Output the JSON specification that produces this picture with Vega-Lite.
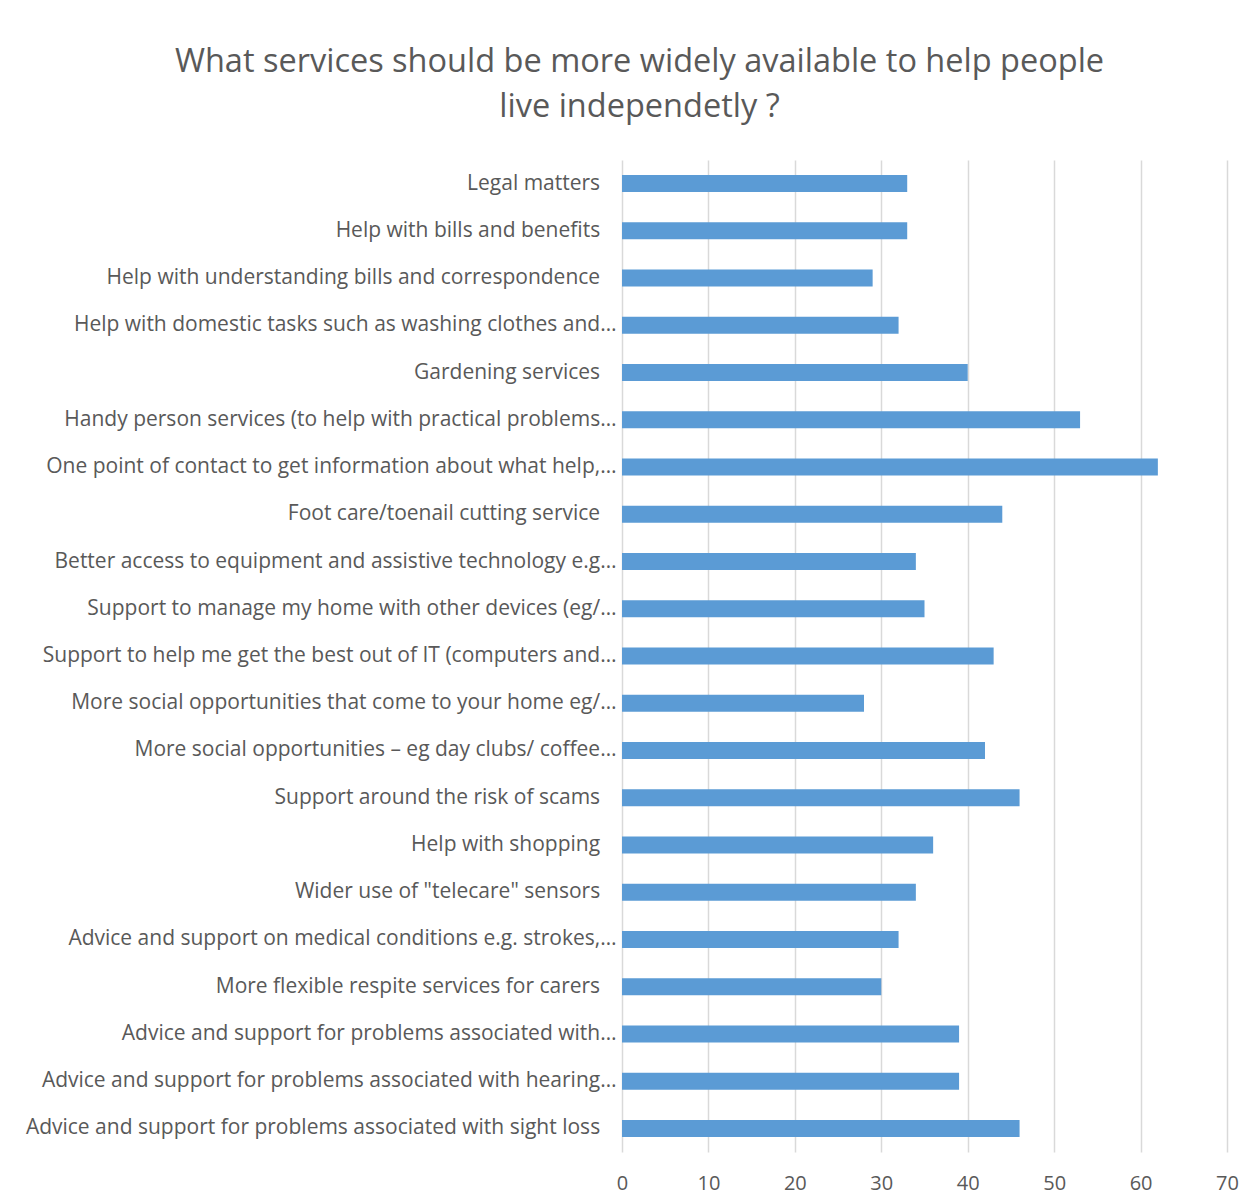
{
  "$schema": "https://vega.github.io/schema/vega-lite/v6.json",
  "width": 605,
  "height": 992,
  "autosize": {"type": "none"},
  "padding": {"left": 622, "top": 160, "right": 29, "bottom": 52},
  "background": "white",
  "title": {
    "text": ["What services should be more widely available to help people", "live independetly ?"],
    "anchor": "middle",
    "frame": "group",
    "dx": -285,
    "offset": 37,
    "font": "Open Sans",
    "fontSize": 32.5,
    "fontWeight": "normal",
    "color": "#595959",
    "lineHeight": 45
  },
  "data": {
    "values": [
      {"service": "Legal matters", "count": 33},
      {"service": "Help with bills and benefits", "count": 33},
      {"service": "Help with understanding bills and correspondence", "count": 29},
      {"service": "Help with domestic tasks such as washing clothes and…", "count": 32},
      {"service": "Gardening services", "count": 40},
      {"service": "Handy person services (to help with practical problems…", "count": 53},
      {"service": "One point of contact to get information about what help,…", "count": 62},
      {"service": "Foot care/toenail cutting service", "count": 44},
      {"service": "Better access to equipment and assistive technology e.g…", "count": 34},
      {"service": "Support to manage my home with other devices (eg/…", "count": 35},
      {"service": "Support to help me get the best out of IT (computers and…", "count": 43},
      {"service": "More social opportunities that come to your home eg/…", "count": 28},
      {"service": "More social opportunities – eg day clubs/ coffee…", "count": 42},
      {"service": "Support around the risk of scams", "count": 46},
      {"service": "Help with shopping", "count": 36},
      {"service": "Wider use of \"telecare\" sensors", "count": 34},
      {"service": "Advice and support on medical conditions e.g. strokes,…", "count": 32},
      {"service": "More flexible respite services for carers", "count": 30},
      {"service": "Advice and support for problems associated with…", "count": 39},
      {"service": "Advice and support for problems associated with hearing…", "count": 39},
      {"service": "Advice and support for problems associated with sight loss", "count": 46}
    ]
  },
  "mark": {"type": "bar", "color": "#5B9BD5"},
  "encoding": {
    "y": {
      "field": "service",
      "type": "nominal",
      "sort": null,
      "scale": {"paddingInner": 0.64, "paddingOuter": 0.32},
      "axis": {
        "title": null,
        "domain": false,
        "ticks": false,
        "grid": false,
        "labelFont": "Open Sans",
        "labelFontSize": 21,
        "labelColor": "#595959",
        "labelPadding": 6,
        "labelLimit": 700,
        "labelExpr": "indexof(datum.label, '…') >= 0 ? datum.label : datum.label + '\u00a0\u00a0\u00a0\u200b'"
      }
    },
    "x": {
      "field": "count",
      "type": "quantitative",
      "scale": {"domain": [0, 70], "nice": false},
      "axis": {
        "title": null,
        "values": [0, 10, 20, 30, 40, 50, 60, 70],
        "domain": false,
        "ticks": false,
        "grid": true,
        "gridColor": "#D9D9D9",
        "gridWidth": 1.5,
        "labelFont": "Open Sans",
        "labelFontSize": 20,
        "labelColor": "#595959",
        "labelPadding": 21,
        "labelFlush": false
      }
    }
  },
  "config": {"view": {"stroke": null}}
}
